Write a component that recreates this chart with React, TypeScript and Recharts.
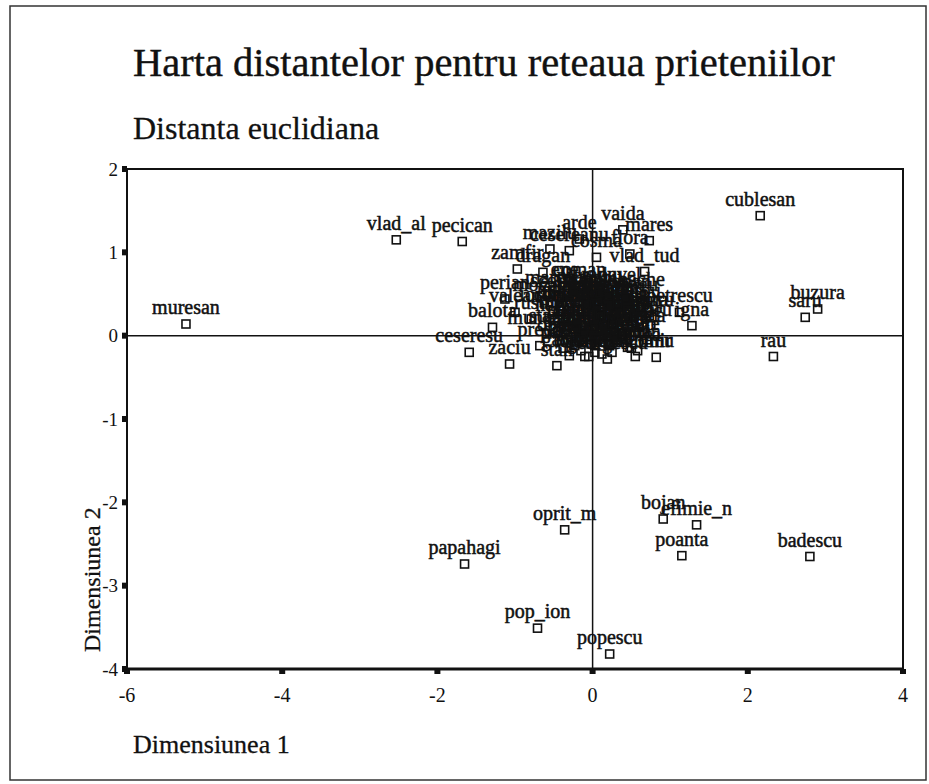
import React from "react";
import { ScatterChart, Scatter, XAxis, YAxis, ReferenceLine, ReferenceArea } from "recharts";

const titleText = "Harta distantelor pentru reteaua prieteniilor";
const subtitleText = "Distanta euclidiana";
const xAxisTitle = "Dimensiunea 1";
const yAxisTitle = "Dimensiunea 2";

const xTicks = [-6, -4, -2, 0, 2, 4];
const yTicks = [-4, -3, -2, -1, 0, 1, 2];

const names = [
  // central cluster (unreadable labels)
  "ionescu", "georgescu", "marin", "stoica", "dumitru", "rusu", "munteanu", "matei",
  "constantin", "lazar", "ciobanu", "florea", "toma", "nistor", "barbu", "moldovan",
  "sandu", "tudor", "oprea", "dobre", "mihai", "suciu", "pavel", "radu",
  "coman", "ene", "mocanu", "nagy", "cristea", "bucur", "voicu", "neagu",
  "sima", "preda", "avram", "pop_ana", "morar", "paun", "gavrila", "iliescu",
  "iordache", "manea", "dinca", "nedelcu", "anghel", "enache", "popa", "vasile",
  "stan_m", "serban", "ursu", "grigore", "mihaila", "sava", "tanase", "ilie",
  "pascu", "rotaru", "chiriac", "bratu", "costea", "dragomir", "marcu", "nica",
  "olteanu", "pana", "roman", "sirbu", "talpa", "ungur", "varga", "zaharia",
  "bogdan", "cozma", "damian", "fodor", "gheorghe", "hategan", "ispas", "jitaru",
  "kovacs", "lupu", "mates", "niculae", "orban", "petre", "rad", "sabau",
  // cluster, partly readable labels
  "vaida", "arde", "mares", "mazilu", "cesereanu", "flora", "cosma", "zamfir",
  "dragan", "vlad_tud", "scortan", "bache", "perian", "valean", "balota", "ceseresu",
  "zaciu", "stan", "petrescu", "dinu", "rosca",
  // outlying points
  "muresan", "vlad_al", "pecican", "cublesan", "buzura", "saru", "rau", "igna",
  "oprit_m", "papahagi", "bojan", "efimie_n", "poanta", "badescu", "pop_ion", "popescu",
];

const dim1 = [
  -0.10, 0.19, 0.45, 0.58, 0.64, -0.79, -0.59, -0.43,
  -0.23, -0.04, 0.09, 0.24, 0.41, -0.30, -0.10, 0.09,
  0.28, 0.48, -0.43, -0.23, 0.03, 0.22, 0.35, 0.09,
  -0.17, -0.36, -0.62, -0.49, -0.04, 0.15, 0.32, 0.54,
  0.73, -0.68, -0.19, 0.04, 0.24, -0.17, -0.30, 0.03,
  -0.50, -0.35, -0.20, -0.05, 0.12, 0.30, 0.45, 0.60,
  -0.45, -0.28, -0.12, 0.02, 0.18, 0.35, 0.52, 0.70,
  -0.38, -0.15, 0.05, 0.25, 0.40, 0.55, -0.55, -0.25,
  0.00, 0.20, 0.42, 0.62, -0.08, 0.15, 0.32, -0.30,
  0.50, 0.12, -0.05, -0.22, 0.26, 0.08, -0.40, 0.75,
  0.38, -0.02, 0.20, -0.18, 0.55, 0.10, -0.32, 0.44,
  0.39, -0.17, 0.73, -0.55, -0.30, 0.48, 0.05, -0.97,
  -0.64, 0.67, -0.43, 0.63, -1.13, -1.00, -1.29, -1.59,
  -1.07, -0.46, 1.12, 0.82, 0.67,
  -5.24, -2.53, -1.68, 2.16, 2.90, 2.74, 2.33, 1.28,
  -0.36, -1.65, 0.91, 1.34, 1.15, 2.80, -0.71, 0.22,
];

const dim2 = [
  -0.25, -0.28, -0.14, -0.18, 0.24, 0.20, 0.02, 0.36,
  0.30, 0.42, 0.24, 0.36, 0.18, 0.12, 0.06, 0.00,
  0.06, 0.00, -0.06, -0.12, -0.12, -0.12, 0.54, 0.54,
  0.60, 0.60, 0.42, 0.18, 0.18, 0.12, -0.06, 0.42,
  0.24, -0.12, 0.48, 0.36, 0.20, -0.06, -0.24, -0.20,
  0.30, 0.22, 0.15, 0.28, 0.33, 0.26, 0.30, 0.10,
  0.05, -0.02, 0.02, 0.10, 0.05, 0.10, 0.18, -0.05,
  -0.15, -0.18, -0.05, -0.20, -0.08, -0.25, 0.50, 0.52,
  0.50, 0.48, 0.45, 0.35, 0.38, 0.20, 0.38, 0.40,
  -0.15, -0.22, -0.25, 0.08, 0.14, 0.42, 0.30, 0.12,
  0.02, -0.10, -0.10, 0.30, 0.05, 0.25, -0.08, 0.22,
  1.27, 1.16, 1.14, 1.04, 1.02, 0.98, 0.94, 0.80,
  0.76, 0.77, 0.47, 0.48, 0.44, 0.28, 0.10, -0.20,
  -0.34, -0.36, 0.28, -0.26, 0.04,
  0.14, 1.15, 1.13, 1.44, 0.32, 0.22, -0.25, 0.12,
  -2.33, -2.74, -2.20, -2.27, -2.64, -2.65, -3.51, -3.82,
];

const points = names.map((name, i) => ({ name, x: dim1[i], y: dim2[i] }));

const FONT = "'Liberation Serif', 'Times New Roman', serif";
const INK = "#111";

const PointShape = (props: any) => {
  const { cx, cy, payload } = props;
  if (cx == null || cy == null) return null;
  return (
    <g>
      <text
        x={cx}
        y={cy - 10}
        textAnchor="middle"
        fontFamily={FONT}
        fontSize={20}
        fill={INK}
        stroke={INK}
        strokeWidth={0.5}
      >
        {payload.name}
      </text>
      <rect x={cx - 4} y={cy - 4} width={8} height={8} fill="none" stroke={INK} strokeWidth={1.6} />
    </g>
  );
};

export default function App() {
  return (
    <div style={{ position: "absolute", left: 0, top: 0, width: 929, height: 784, background: "#fff" }}>
      <svg width={929} height={784} style={{ position: "absolute", left: 0, top: 0 }}>
        <rect x={10} y={6} width={916} height={774} fill="none" stroke="#333" strokeWidth={1.5} />
        <text x={133} y={76} fontFamily={FONT} fontSize={40.5} fill={INK} stroke={INK} strokeWidth={0.4}>
          {titleText}
        </text>
        <text x={133} y={139} fontFamily={FONT} fontSize={32} fill={INK} stroke={INK} strokeWidth={0.3}>
          {subtitleText}
        </text>
        <text x={133} y={753} fontFamily={FONT} fontSize={26} fill={INK} stroke={INK} strokeWidth={0.3}>
          {xAxisTitle}
        </text>
        <text
          x={0}
          y={0}
          transform="translate(100,652) rotate(-90)"
          fontFamily={FONT}
          fontSize={24}
          fill={INK}
          stroke={INK}
          strokeWidth={0.3}
        >
          {yAxisTitle}
        </text>
      </svg>
      <div style={{ position: "absolute", left: 0, top: 0 }}>
        <ScatterChart width={929} height={784} margin={{ top: 169, right: 26, bottom: 85, left: 87 }}>
          <XAxis
            type="number"
            dataKey="x"
            domain={[-6, 4]}
            ticks={xTicks}
            allowDataOverflow
            height={30}
            axisLine={{ stroke: INK, strokeWidth: 3 }}
            tickLine={{ stroke: INK, strokeWidth: 6 }}
            tickSize={5}
            tickMargin={14}
            tick={{ fontFamily: FONT, fontSize: 20, fill: INK }}
          />
          <YAxis
            type="number"
            dataKey="y"
            domain={[-4, 2]}
            ticks={yTicks}
            allowDataOverflow
            width={40}
            axisLine={{ stroke: INK, strokeWidth: 2 }}
            tickLine={{ stroke: INK, strokeWidth: 6 }}
            tickSize={5}
            tickMargin={4}
            tick={{ fontFamily: FONT, fontSize: 19, fill: INK }}
          />
          <ReferenceArea x1={-6} x2={4} y1={-4} y2={2} fill="none" stroke={INK} strokeWidth={2} fillOpacity={0} />
          <ReferenceLine x={0} stroke={INK} strokeWidth={1.5} />
          <ReferenceLine y={0} stroke={INK} strokeWidth={1.5} />
          <Scatter data={points} isAnimationActive={false} shape={PointShape} />
        </ScatterChart>
      </div>
    </div>
  );
}
